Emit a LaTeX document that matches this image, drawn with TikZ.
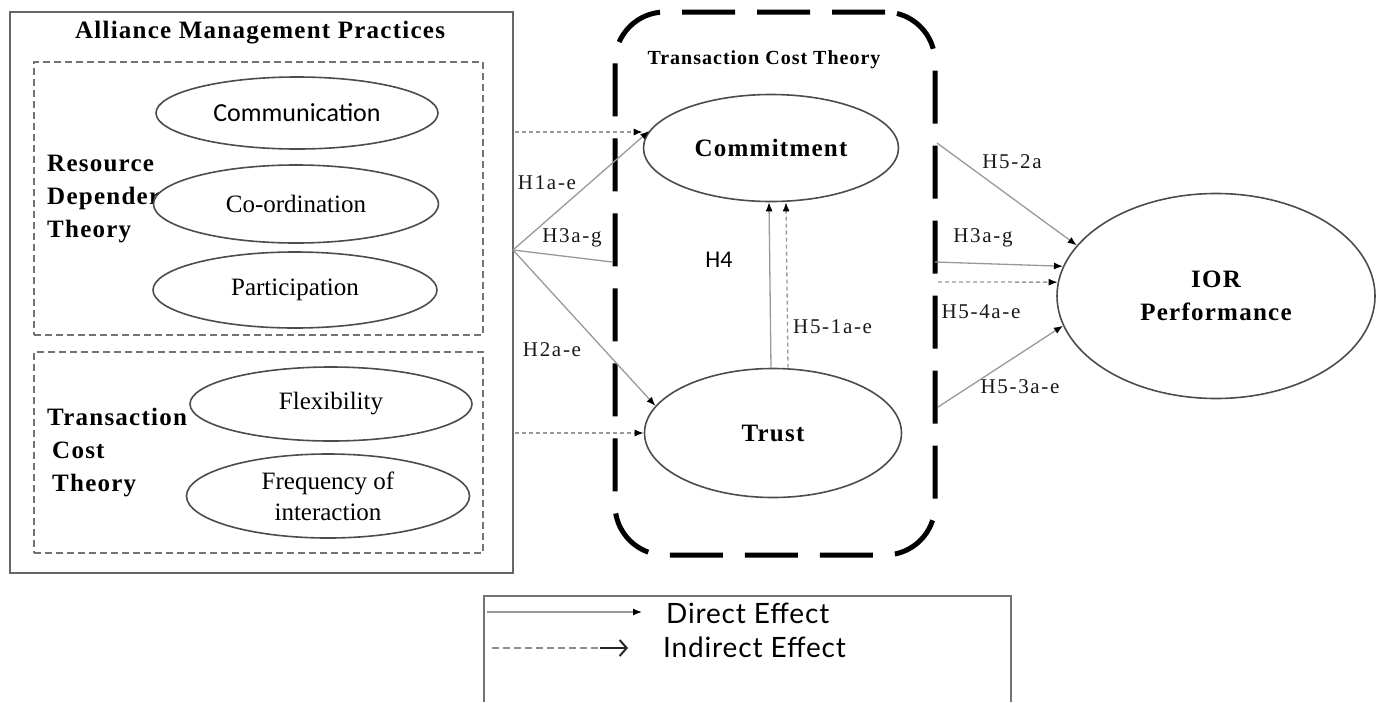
\documentclass[tikz,border=0pt]{standalone}
\usepackage{fontspec}
\setmainfont{Liberation Serif}
\newfontfamily\calfont{Carlito}
\newfontfamily\lsfont[LetterSpace=5]{Liberation Serif}
\newfontfamily\hfont[LetterSpace=8]{Liberation Serif}
\newfontfamily\legfont[LetterSpace=3]{Lato}
\usetikzlibrary{arrows.meta,shapes.geometric}
\begin{document}
\begin{tikzpicture}[x=1pt,y=-1pt,
  oval/.style={ellipse, draw=black!70, line width=1.6pt, fill=white, inner sep=0pt, align=center},
  sbox/.style={draw=black!60, line width=1.5pt, inner sep=0pt},
  dbox/.style={draw=black!55, line width=1.5pt, dash pattern=on 7pt off 4pt, inner sep=0pt},
  conn/.style={draw=black!40, line width=1.3pt, -{Latex[length=9pt,width=7pt,color=black]}},
  dconn/.style={conn, dash pattern=on 4pt off 3pt},
  plainln/.style={draw=black!40, line width=1.3pt},
  hlab/.style={font=\hfont\fontsize{21}{24}\selectfont, text=black!90, inner sep=0pt},
  blab/.style={font=\lsfont\bfseries\fontsize{25}{33}\selectfont, inner sep=0pt, align=left},
  etext/.style={font=\fontsize{25}{31}\selectfont},
  legtext/.style={font=\legfont\fontsize{28}{32}\selectfont, inner sep=0pt, anchor=west},
]
\useasboundingbox (0,0) rectangle (1381,702);

% left block
\node[sbox, minimum width=503pt, minimum height=561pt] (amp) at (261.5,292.5) {};
\node[blab] (amptitle) at (260,33) {Alliance Management Practices};
\node[dbox, minimum width=449pt, minimum height=273pt] (rdbox) at (258.5,198.5) {};
\node[dbox, minimum width=449pt, minimum height=201pt] (tcbox) at (258.5,452.5) {};

\node[blab, anchor=west] (rdtlab) at (47,199) {Resource\\Depender\\Theory};
\node[blab, anchor=west] (tctlab) at (47,453) {Transaction\\\hspace*{5pt}Cost\\\hspace*{5pt}Theory};

\node[oval, minimum width=282pt, minimum height=72pt, font=\calfont\fontsize{26}{30}\selectfont] (comm) at (297,113) {Communication};
\node[oval, etext, minimum width=285pt, minimum height=78pt] (coord) at (296,204) {Co-ordination};
\node[oval, etext, minimum width=284pt, minimum height=76pt] (part) at (295,290) {Participation};
\node[oval, etext, minimum width=282pt, minimum height=74pt] (flex) at (331,404) {Flexibility};
\node[oval, etext, minimum width=283pt, minimum height=84pt] (freq) at (328,496) {Frequency of\\interaction};

% middle block
\node[draw=black, line width=5pt, rounded corners=50pt, dash pattern=on 53pt off 22pt, minimum width=320pt, minimum height=543pt, inner sep=0pt] (tctbox) at (775,283.5) {};
\node[font=\lsfont\bfseries\fontsize{20}{24}\selectfont, inner sep=0pt] (tcttitle) at (764,60) {Transaction Cost Theory};
\node[oval, minimum width=255pt, minimum height=107pt, font=\lsfont\bfseries\fontsize{25}{30}\selectfont] (commit) at (771,148) {Commitment};
\node[oval, minimum width=257pt, minimum height=129pt, font=\lsfont\bfseries\fontsize{25}{30}\selectfont] (trust) at (773,433) {Trust};

% right
\node[oval, minimum width=318pt, minimum height=205pt, font=\lsfont\bfseries\fontsize{25}{33}\selectfont] (ior) at (1216,296) {IOR\\Performance};

% left connectors
\coordinate (br) at (513,250);
\coordinate (h3end) at (612,262);
\coordinate (s1) at (515,132);
\coordinate (s2) at (515,433);
\draw[dconn] (s1) -- (commit.west |- s1);
\draw[dconn] (s2) -- (trust.west |- s2);
\draw[conn] (br) -- (commit.172);
\draw[plainln] (br) -- (h3end);
\draw[conn] (br) -- (trust.167);
\node[hlab] (h1) at (547,183) {H1a-e};
\node[hlab] (h3l) at (572,238) {H3a-g};
\node[hlab] (h2) at (552,350) {H2a-e};

% trust -> commitment
\draw[conn] ([xshift=-2pt]trust.north) -- ([xshift=-2pt]commit.south);
\draw[dconn] ([xshift=15pt]trust.north) -- ([xshift=15pt]commit.south);
\node[font=\calfont\fontsize{24}{28}\selectfont, inner sep=0pt] (h4) at (719,260) {H4};
\node[hlab, anchor=west] (h51) at (793,327) {H5-1a-e};

% right connectors
\coordinate (r1) at (937,143);
\coordinate (r2) at (935,262);
\coordinate (r3) at (938,282);
\coordinate (r4) at (938,407);
\draw[conn] (r1) -- (ior.160);
\draw[conn] (r2) -- (ior.169);
\draw[dconn] (r3) -- (ior.175);
\draw[conn] (r4) -- (ior.191);
\node[hlab] (h52) at (1012,162) {H5-2a};
\node[hlab] (h3r) at (983,238) {H3a-g};
\node[hlab] (h54) at (981,312) {H5-4a-e};
\node[hlab] (h53) at (1020,387) {H5-3a-e};

% legend
\draw[draw=black!55, line width=1.5pt] (484,702) -- (484,596) -- (1011,596) -- (1011,702);
\coordinate (ld1) at (487,612);
\coordinate (ld2) at (642,612);
\coordinate (li1) at (492,648);
\coordinate (li3) at (600,648);
\coordinate (li2) at (628,648);
\draw[conn] (ld1) -- (ld2);
\draw[draw=black!45, line width=1.5pt, dash pattern=on 7pt off 4pt] (li1) -- (li3);
\draw[draw=black!85, line width=2pt, -{Straight Barb[length=7pt,width=16pt,line width=2pt]}] (li3) -- (li2);
\node[legtext] (ldir) at (666,613) {Direct Effect};
\node[legtext] (lind) at (663,647) {Indirect Effect};
\end{tikzpicture}
\end{document}
